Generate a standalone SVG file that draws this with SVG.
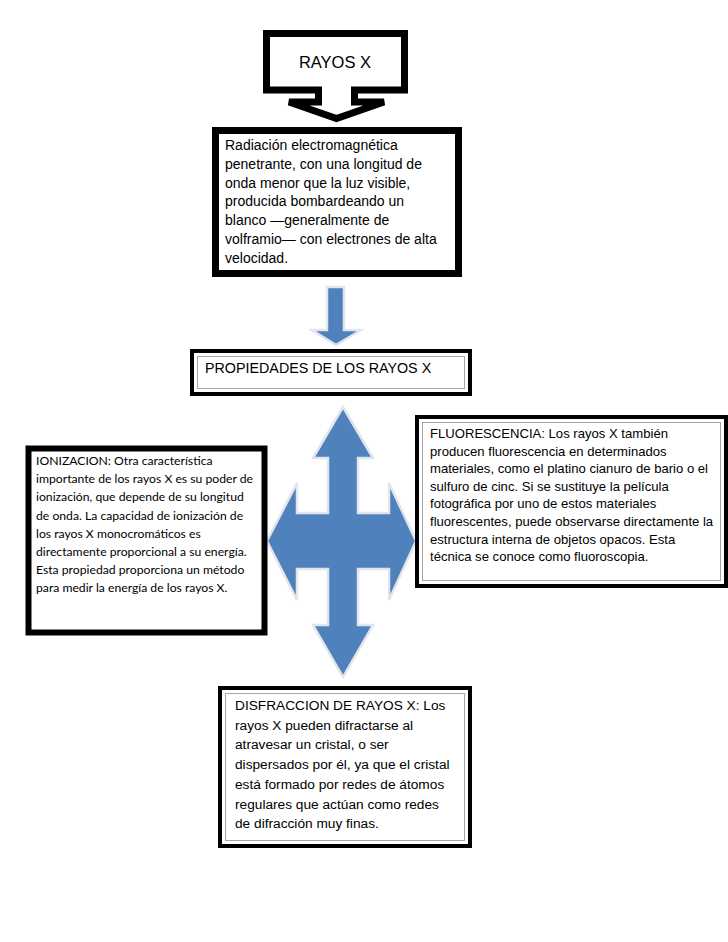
<svg xmlns="http://www.w3.org/2000/svg" width="728" height="942" viewBox="0 0 728 942">
<style>
.arial{font-family:"Liberation Sans",Arial,sans-serif;fill:#000}
.cal{font-family:Lato,"Open Sans",sans-serif;fill:#000}
.thick{fill:#fff;stroke:#000;stroke-width:7}
.outer{fill:#fff;stroke:#000;stroke-width:4}
.inner{fill:none;stroke:#a6a6a6;stroke-width:1}
.blue{fill:#4f81bd;stroke:#e2e6ec;stroke-width:2.5;stroke-linejoin:miter}
</style>
<rect width="728" height="942" fill="#fff"/>
<g id="connectors">
  <path class="blue" d="M327,287 H344 V330 H361 L336,345 L312,330 H327 Z"/>
  <path class="blue" d="M343,407 L373,458 H358 V513 H389 V483 L416,541 L389,600 V569 H358 V625 H373 L343,677 L313,625 H328 V569 H297 V600 L267,541 L297,483 V513 H328 V458 H313 Z"/>
</g>
<g id="rayos-x">
  <path d="M266.5,33.5 H404.5 V90 H354.5 V102 H384 L336.5,118.5 L289,102 H318.5 V90 H266.5 Z" fill="#fff" stroke="#000" stroke-width="7" stroke-linejoin="miter"/>
  <text class="arial" x="335" y="68" font-size="16.5" text-anchor="middle">RAYOS X</text>
</g>
<g id="radiacion">
  <rect class="thick" x="215.5" y="130.5" width="243" height="143"/>
  <text class="arial" font-size="14">
    <tspan x="225" y="150">Radiación electromagnética</tspan>
    <tspan x="225" y="168.8">penetrante, con una longitud de</tspan>
    <tspan x="225" y="187.6">onda menor que la luz visible,</tspan>
    <tspan x="225" y="206.4">producida bombardeando un</tspan>
    <tspan x="225" y="225.2">blanco —generalmente de</tspan>
    <tspan x="225" y="244">volframio— con electrones de alta</tspan>
    <tspan x="225" y="262.8">velocidad.</tspan>
  </text>
</g>
<g id="propiedades">
  <rect class="outer" x="192" y="351" width="278" height="43"/>
  <rect class="inner" x="197.5" y="356.5" width="267" height="32"/>
  <text class="arial" x="205" y="373" font-size="14.3">PROPIEDADES DE LOS RAYOS X</text>
</g>
<g id="ionizacion">
  <rect x="28.5" y="448.5" width="236" height="184" fill="#fff" stroke="#000" stroke-width="6"/>
  <text class="cal" font-size="12.2">
    <tspan x="36" y="465">IONIZACION: Otra característica</tspan>
    <tspan x="36" y="483.2">importante de los rayos X es su poder de</tspan>
    <tspan x="36" y="501.4">ionización, que depende de su longitud</tspan>
    <tspan x="36" y="519.6">de onda. La capacidad de ionización de</tspan>
    <tspan x="36" y="537.8">los rayos X monocromáticos es</tspan>
    <tspan x="36" y="556">directamente proporcional a su energía.</tspan>
    <tspan x="36" y="574.2">Esta propiedad proporciona un método</tspan>
    <tspan x="36" y="592.4">para medir la energía de los rayos X.</tspan>
  </text>
</g>
<g id="fluorescencia">
  <rect class="outer" x="417" y="417" width="309" height="169"/>
  <rect class="inner" x="422.5" y="422.5" width="298" height="158"/>
  <text class="arial" font-size="13.1">
    <tspan x="430" y="438">FLUORESCENCIA: Los rayos X también</tspan>
    <tspan x="430" y="455.6">producen fluorescencia en determinados</tspan>
    <tspan x="430" y="473.2">materiales, como el platino cianuro de bario o el</tspan>
    <tspan x="430" y="490.8">sulfuro de cinc. Si se sustituye la película</tspan>
    <tspan x="430" y="508.4">fotográfica por uno de estos materiales</tspan>
    <tspan x="430" y="526">fluorescentes, puede observarse directamente la</tspan>
    <tspan x="430" y="543.6">estructura interna de objetos opacos. Esta</tspan>
    <tspan x="430" y="561.2">técnica se conoce como fluoroscopia.</tspan>
  </text>
</g>
<g id="disfraccion">
  <rect class="outer" x="220" y="688" width="250" height="158"/>
  <rect class="inner" x="225.5" y="693.5" width="239" height="147"/>
  <text class="arial" font-size="13.7">
    <tspan x="235" y="710">DISFRACCION DE RAYOS X: Los</tspan>
    <tspan x="235" y="729.7">rayos X pueden difractarse al</tspan>
    <tspan x="235" y="749.4">atravesar un cristal, o ser</tspan>
    <tspan x="235" y="769.1">dispersados por él, ya que el cristal</tspan>
    <tspan x="235" y="788.8">está formado por redes de átomos</tspan>
    <tspan x="235" y="808.5">regulares que actúan como redes</tspan>
    <tspan x="235" y="828.2">de difracción muy finas.</tspan>
  </text>
</g>
</svg>
